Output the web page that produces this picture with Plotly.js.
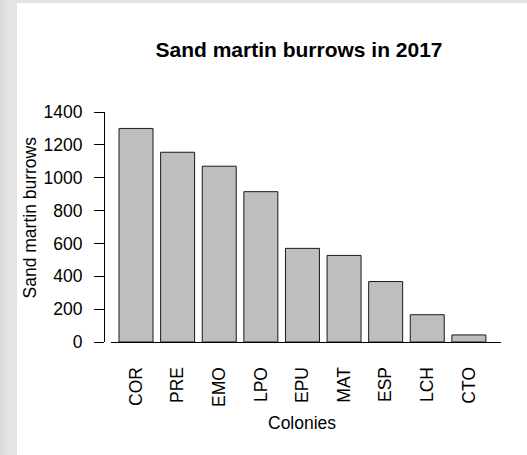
<!DOCTYPE html>
<html>
<head>
<meta charset="utf-8">
<script src="https://cdn.plot.ly/plotly-3.0.1.min.js"></script>
<style>
  html, body { margin: 0; padding: 0; width: 527px; height: 455px; overflow: hidden;
    background: linear-gradient(to right, #d9d9d9 0px, #e6e6e6 10px, #e2e2e2 17px); }
  #chart { position: absolute; left: 17px; top: 3px; width: 510px; height: 452px; background: #fff; }
</style>
</head>
<body>
<div id="chart"></div>
<script>
// Data
const colonies = ['COR', 'PRE', 'EMO', 'LPO', 'EPU', 'MAT', 'ESP', 'LCH', 'CTO'];
const burrows = [1300, 1155, 1070, 915, 570, 527, 368, 166, 43];
const yTicks = [0, 200, 400, 600, 800, 1000, 1200, 1400];

const FONT = 'Liberation Sans, Arial, Helvetica, sans-serif';
const FS = 17.5;

const trace = {
  type: 'bar',
  x: colonies,
  y: burrows,
  marker: { color: '#bebebe', line: { color: '#1a1a1a', width: 1 } },
  hoverinfo: 'x+y'
};

const layout = {
  width: 510, height: 452,
  margin: { l: 86.7, r: 26.4, t: 109.3, b: 112.7, pad: 0 },
  paper_bgcolor: '#ffffff',
  plot_bgcolor: '#ffffff',
  bargap: 0.183,
  showlegend: false,
  font: { family: FONT, size: FS, color: '#000' },
  title: {
    text: '<b>Sand martin burrows in 2017</b>',
    font: { family: FONT, size: 21, color: '#000' },
    xref: 'container', x: 0.553, xanchor: 'center',
    yref: 'container', y: 0.896, yanchor: 'middle'
  },
  xaxis: {
    domain: [0.0184, 1],
    range: [-0.594, 8.772],
    type: 'category',
    showline: true, linecolor: '#000', linewidth: 1,
    showgrid: false, zeroline: false,
    ticks: '', tickangle: -90,
    ticklabelstandoff: 17,
    tickfont: { family: FONT, size: FS, color: '#000' },
    fixedrange: true
  },
  yaxis: {
    anchor: 'free', position: 0,
    range: [0, 1400],
    tickvals: yTicks,
    ticktext: yTicks.map(String),
    showline: true, linecolor: '#000', linewidth: 1,
    showgrid: false, zeroline: false,
    ticks: 'outside', ticklen: 10, tickcolor: '#000', tickwidth: 1,
    ticklabelstandoff: 8,
    tickfont: { family: FONT, size: FS, color: '#000' },
    fixedrange: true
  },
  annotations: [
    {
      text: 'Sand martin burrows', textangle: -90,
      xref: 'paper', x: -0.1857, xanchor: 'center',
      yref: 'paper', y: 0.5426, yanchor: 'middle',
      showarrow: false, font: { family: FONT, size: FS, color: '#000' }
    },
    {
      text: 'Colonies',
      xref: 'x', x: 4, xanchor: 'center',
      yref: 'paper', y: -0.351, yanchor: 'middle',
      showarrow: false, font: { family: FONT, size: FS, color: '#000' }
    }
  ]
};

Plotly.newPlot('chart', [trace], layout, { displayModeBar: false, staticPlot: true });
</script>
</body>
</html>
